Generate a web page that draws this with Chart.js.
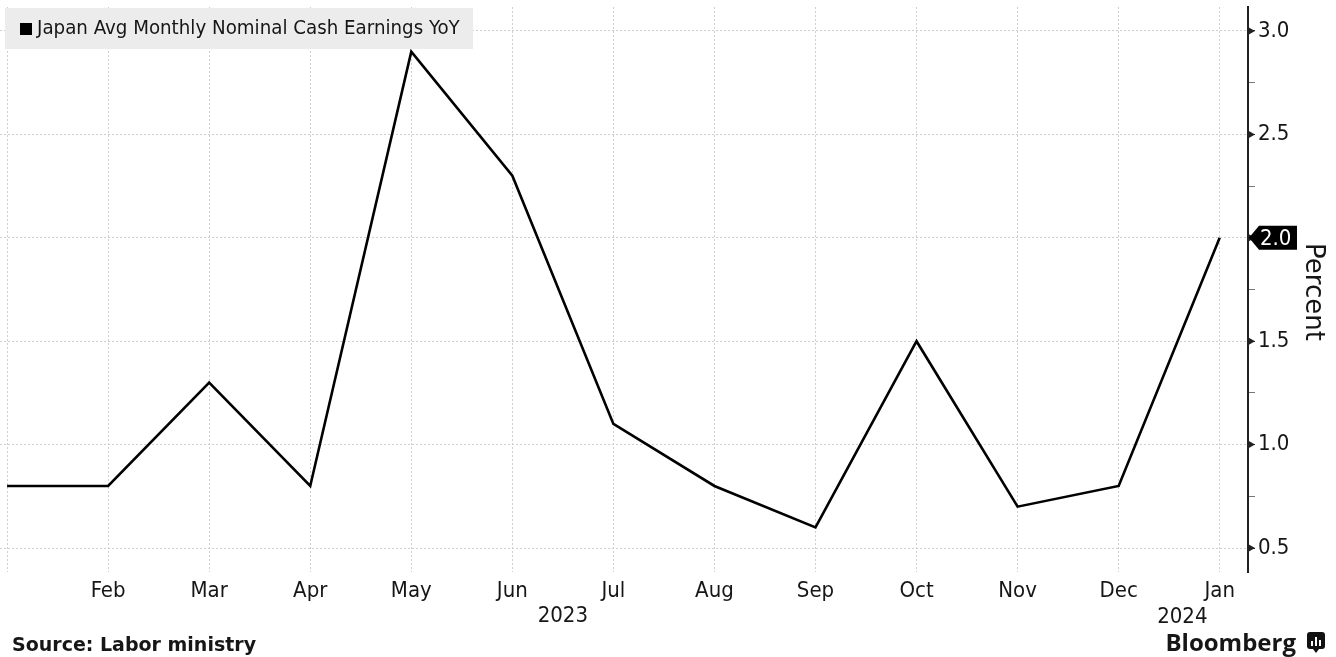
<!DOCTYPE html>
<html>
<head>
<meta charset="utf-8">
<script src="https://cdn.jsdelivr.net/npm/chart.js@4.4.1/dist/chart.umd.min.js"></script>
<style>
  html, body { margin: 0; padding: 0; background: #fff; }
  #wrap { width: 1336px; height: 657px; }
</style>
</head>
<body>
<div id="wrap"><canvas id="chart" width="1336" height="657"></canvas></div>
<script>
// Japan avg monthly nominal cash earnings, YoY %, Jan 2023 .. Jan 2024
var monthLabels = ['Jan','Feb','Mar','Apr','May','Jun','Jul','Aug','Sep','Oct','Nov','Dec','Jan'];
var earnings    = [0.8, 0.8, 1.3, 0.8, 2.9, 2.3, 1.1, 0.8, 0.6, 1.5, 0.7, 0.8, 2.0];
var yearLabels  = ['2023', '2024'];
var yTicks      = [0.5, 0.75, 1.0, 1.25, 1.5, 1.75, 2.0, 2.25, 2.5, 2.75, 3.0];
var seriesName  = 'Japan Avg Monthly Nominal Cash Earnings YoY';

var FONT = "'DejaVu Sans Condensed', 'DejaVu Sans', Verdana, sans-serif";
var FONT_B = "'DejaVu Sans', Verdana, sans-serif";
var TXT = '#161616';

function isMajor(v) { return Math.abs(v * 2 - Math.round(v * 2)) < 1e-6; }

var decor = {
  id: 'decor',
  afterDraw: function(chart) {
    var ctx = chart.ctx, xs = chart.scales.x, ys = chart.scales.y, area = chart.chartArea;
    ctx.save();

    // little arrow heads on the major y ticks
    ctx.fillStyle = '#222';
    yTicks.forEach(function(v) {
      if (!isMajor(v)) return;
      var y = ys.getPixelForValue(v);
      ctx.beginPath();
      ctx.moveTo(area.right, y - 4);
      ctx.lineTo(area.right + 7, y);
      ctx.lineTo(area.right, y + 4);
      ctx.closePath();
      ctx.fill();
    });

    // legend box
    ctx.fillStyle = '#ececec';
    ctx.fillRect(5, 8, 468, 41);
    ctx.fillStyle = '#000';
    ctx.fillRect(20, 23, 12, 12);
    ctx.fillStyle = TXT;
    ctx.font = '20.3px ' + FONT;
    ctx.textBaseline = 'middle';
    ctx.textAlign = 'left';
    ctx.fillText(seriesName, 37, 29);

    // last value tag
    var last = earnings[earnings.length - 1];
    var ty = ys.getPixelForValue(last);
    var tx = area.right + 1;
    ctx.fillStyle = '#000';
    ctx.beginPath();
    ctx.moveTo(tx, ty);
    ctx.lineTo(tx + 10, ty - 12);
    ctx.lineTo(tx + 48, ty - 12);
    ctx.lineTo(tx + 48, ty + 12);
    ctx.lineTo(tx + 10, ty + 12);
    ctx.closePath();
    ctx.fill();
    ctx.fillStyle = '#fff';
    ctx.font = '22px ' + FONT;
    ctx.fillText(last.toFixed(1), tx + 11, ty + 1);

    // axis title
    ctx.save();
    ctx.translate(1313, 292);
    ctx.rotate(Math.PI / 2);
    ctx.fillStyle = TXT;
    ctx.font = '26px ' + FONT_B;
    ctx.textAlign = 'center';
    ctx.fillText('Percent', 0, 0);
    ctx.restore();

    // year labels under the month ticks
    ctx.fillStyle = TXT;
    ctx.font = '22px ' + FONT;
    ctx.textAlign = 'center';
    ctx.fillText(yearLabels[0], xs.getPixelForValue(5.5), 616);
    ctx.fillText(yearLabels[1], xs.getPixelForValue(11.63), 617);

    // footer
    ctx.textAlign = 'left';
    ctx.font = 'bold 19px ' + FONT_B;
    ctx.fillText('Source: Labor ministry', 12, 646);
    ctx.textAlign = 'right';
    ctx.font = "bold 24px 'Open Sans', 'Liberation Sans', sans-serif";
    ctx.fillText('Bloomberg', 1296, 644);
    // logo
    ctx.fillStyle = '#111';
    ctx.beginPath();
    ctx.roundRect(1307, 632, 18, 17, 3);
    ctx.fill();
    ctx.beginPath();
    ctx.moveTo(1313, 649); ctx.lineTo(1316, 653); ctx.lineTo(1319, 649);
    ctx.fill();
    ctx.fillStyle = '#fff';
    ctx.fillRect(1311, 641, 2, 5);
    ctx.fillRect(1315, 637, 2, 9);
    ctx.fillRect(1319, 640, 2, 6);
    ctx.restore();
  }
};

new Chart(document.getElementById('chart'), {
  type: 'line',
  data: {
    datasets: [{
      label: seriesName,
      data: earnings.map(function(v, i) { return { x: i, y: v }; }),
      borderColor: '#000',
      borderWidth: 2.6,
      pointRadius: 0,
      tension: 0,
      fill: false
    }]
  },
  options: {
    responsive: false,
    animation: false,
    layout: { padding: { top: 7, left: 0, right: 0, bottom: 0 } },
    plugins: { legend: { display: false }, tooltip: { enabled: false } },
    scales: {
      x: {
        type: 'linear',
        min: -0.07,
        max: 12.28,
        afterBuildTicks: function(s) { s.ticks = monthLabels.map(function(m, i) { return { value: i }; }); },
        afterFit: function(s) { s.height = 85; s.paddingLeft = 0; s.paddingRight = 0; },
        ticks: {
          autoSkip: false,
          maxRotation: 0,
          padding: 6,
          color: TXT,
          font: { family: FONT, size: 22 },
          callback: function(v) { var i = Math.round(v); return i === 0 ? '' : monthLabels[i]; }
        },
        grid: { color: '#cfcfcf', lineWidth: 1, drawTicks: false },
        border: { display: false, dash: [2, 2] }
      },
      y: {
        position: 'right',
        min: 0.384,
        max: 3.116,
        afterBuildTicks: function(s) { s.ticks = yTicks.map(function(v) { return { value: v }; }); },
        afterFit: function(s) { s.width = 88; s.paddingTop = 0; s.paddingBottom = 0; },
        ticks: {
          padding: 3,
          color: TXT,
          font: { family: FONT, size: 22 },
          callback: function(v) { return isMajor(v) ? v.toFixed(1) : ''; }
        },
        grid: {
          color: function(c) { return c.tick && isMajor(c.tick.value) ? '#cfcfcf' : 'rgba(0,0,0,0)'; },
          lineWidth: 1,
          tickColor: function(c) { return c.tick && isMajor(c.tick.value) ? '#222' : '#777'; },
          tickLength: 7,
          tickWidth: 1
        },
        border: { display: true, color: '#222', width: 2, dash: [2, 2] }
      }
    }
  },
  plugins: [decor]
});
</script>
</body>
</html>
